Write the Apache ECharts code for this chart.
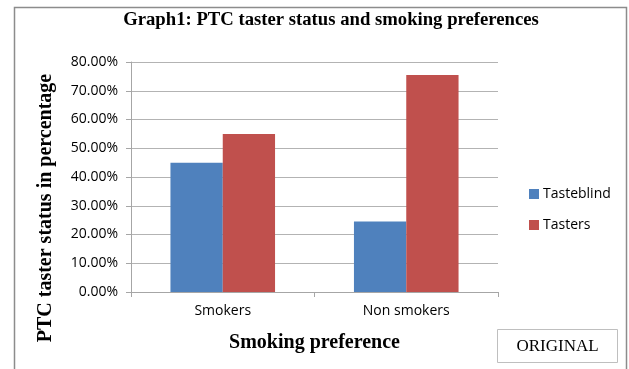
<!DOCTYPE html>
<html>
<head>
<meta charset="utf-8">
<script src="https://cdn.jsdelivr.net/npm/echarts@6/dist/echarts.min.js"></script>
<style>
  html, body { margin: 0; padding: 0; background: #ffffff; }
  #chart { width: 629px; height: 369px; }
</style>
</head>
<body>
<div id="chart"></div>
<script>
// Smoking preference groups and PTC taster status shares (percent)
const categories = ['Smokers', 'Non smokers'];
const tasteblind = [45.0, 24.5];
const tasters = [55.0, 75.5];
const yTicks = [0, 10, 20, 30, 40, 50, 60, 70, 80];

const sans = '"Open Sans", "Liberation Sans", sans-serif';
const serif = '"Liberation Serif", "DejaVu Serif", serif';

const chart = echarts.init(document.getElementById('chart'), null, { renderer: 'canvas' });

chart.setOption({
  animation: false,
  backgroundColor: '#ffffff',
  graphic: [
    {
      type: 'rect',
      silent: true,
      shape: { x: 14.5, y: 7.5, width: 612, height: 370 },
      style: { fill: 'none', stroke: '#8c8c8c', lineWidth: 1.5 }
    },
    {
      // chart title
      type: 'text',
      x: 331,
      y: 20,
      style: {
        text: 'Graph1: PTC taster status and smoking preferences',
        fill: '#000',
        font: 'bold 18.7px "Liberation Serif", serif',
        align: 'center',
        verticalAlign: 'middle'
      }
    },
    {
      // vertical axis title
      type: 'text',
      x: 46,
      y: 208,
      rotation: Math.PI / 2,
      style: {
        text: 'PTC taster status in percentage',
        fill: '#000',
        font: 'bold 20px "Liberation Serif", serif',
        align: 'center',
        verticalAlign: 'middle'
      }
    },
    {
      type: 'group',
      left: 497,
      top: 329,
      children: [
        {
          type: 'rect',
          shape: { x: 0.5, y: 0.5, width: 120, height: 33 },
          style: { fill: '#ffffff', stroke: '#bfbfbf', lineWidth: 1 }
        },
        {
          type: 'text',
          x: 60.5, y: 17.5,
          style: {
            text: 'ORIGINAL', fill: '#000',
            font: '17px "Liberation Serif", serif',
            align: 'center', verticalAlign: 'middle'
          }
        }
      ]
    }
  ],
  legend: {
    orient: 'vertical',
    left: 524,
    top: 182,
    itemWidth: 10,
    itemHeight: 10,
    itemGap: 17,
    icon: 'rect',
    textStyle: { fontFamily: sans, fontSize: 14, color: '#000', padding: [0, 0, 0, -1] },
    data: ['Tasteblind', 'Tasters']
  },
  grid: { left: 131, right: 131, top: 62, bottom: 77, containLabel: false },
  xAxis: {
    type: 'category',
    data: categories,
    name: 'Smoking preference',
    nameLocation: 'middle',
    nameGap: 41,
    nameTextStyle: { fontFamily: serif, fontWeight: 'bold', fontSize: 20, color: '#000' },
    axisLine: { lineStyle: { color: '#a6a6a6' } },
    axisTick: { show: true, length: 5, lineStyle: { color: '#a6a6a6' } },
    axisLabel: { fontFamily: sans, fontSize: 14, color: '#000', margin: 12 }
  },
  yAxis: {
    type: 'value',
    min: yTicks[0],
    max: yTicks[yTicks.length - 1],
    interval: 10,
    axisLine: { show: true, lineStyle: { color: '#a6a6a6' } },
    axisTick: { show: true, length: 5, lineStyle: { color: '#a6a6a6' } },
    splitLine: { lineStyle: { color: '#b3b3b3' } },
    axisLabel: {
      fontFamily: sans, fontSize: 14, color: '#000', margin: 13,
      formatter: v => v.toFixed(2) + '%'
    }
  },
  series: [
    {
      name: 'Tasteblind',
      type: 'bar',
      data: tasteblind,
      barGap: '0%',
      barCategoryGap: '43%',
      itemStyle: { color: '#4f81bd' }
    },
    {
      name: 'Tasters',
      type: 'bar',
      data: tasters,
      barGap: '0%',
      barCategoryGap: '43%',
      itemStyle: { color: '#c0504d' }
    }
  ]
});
</script>
</body>
</html>
